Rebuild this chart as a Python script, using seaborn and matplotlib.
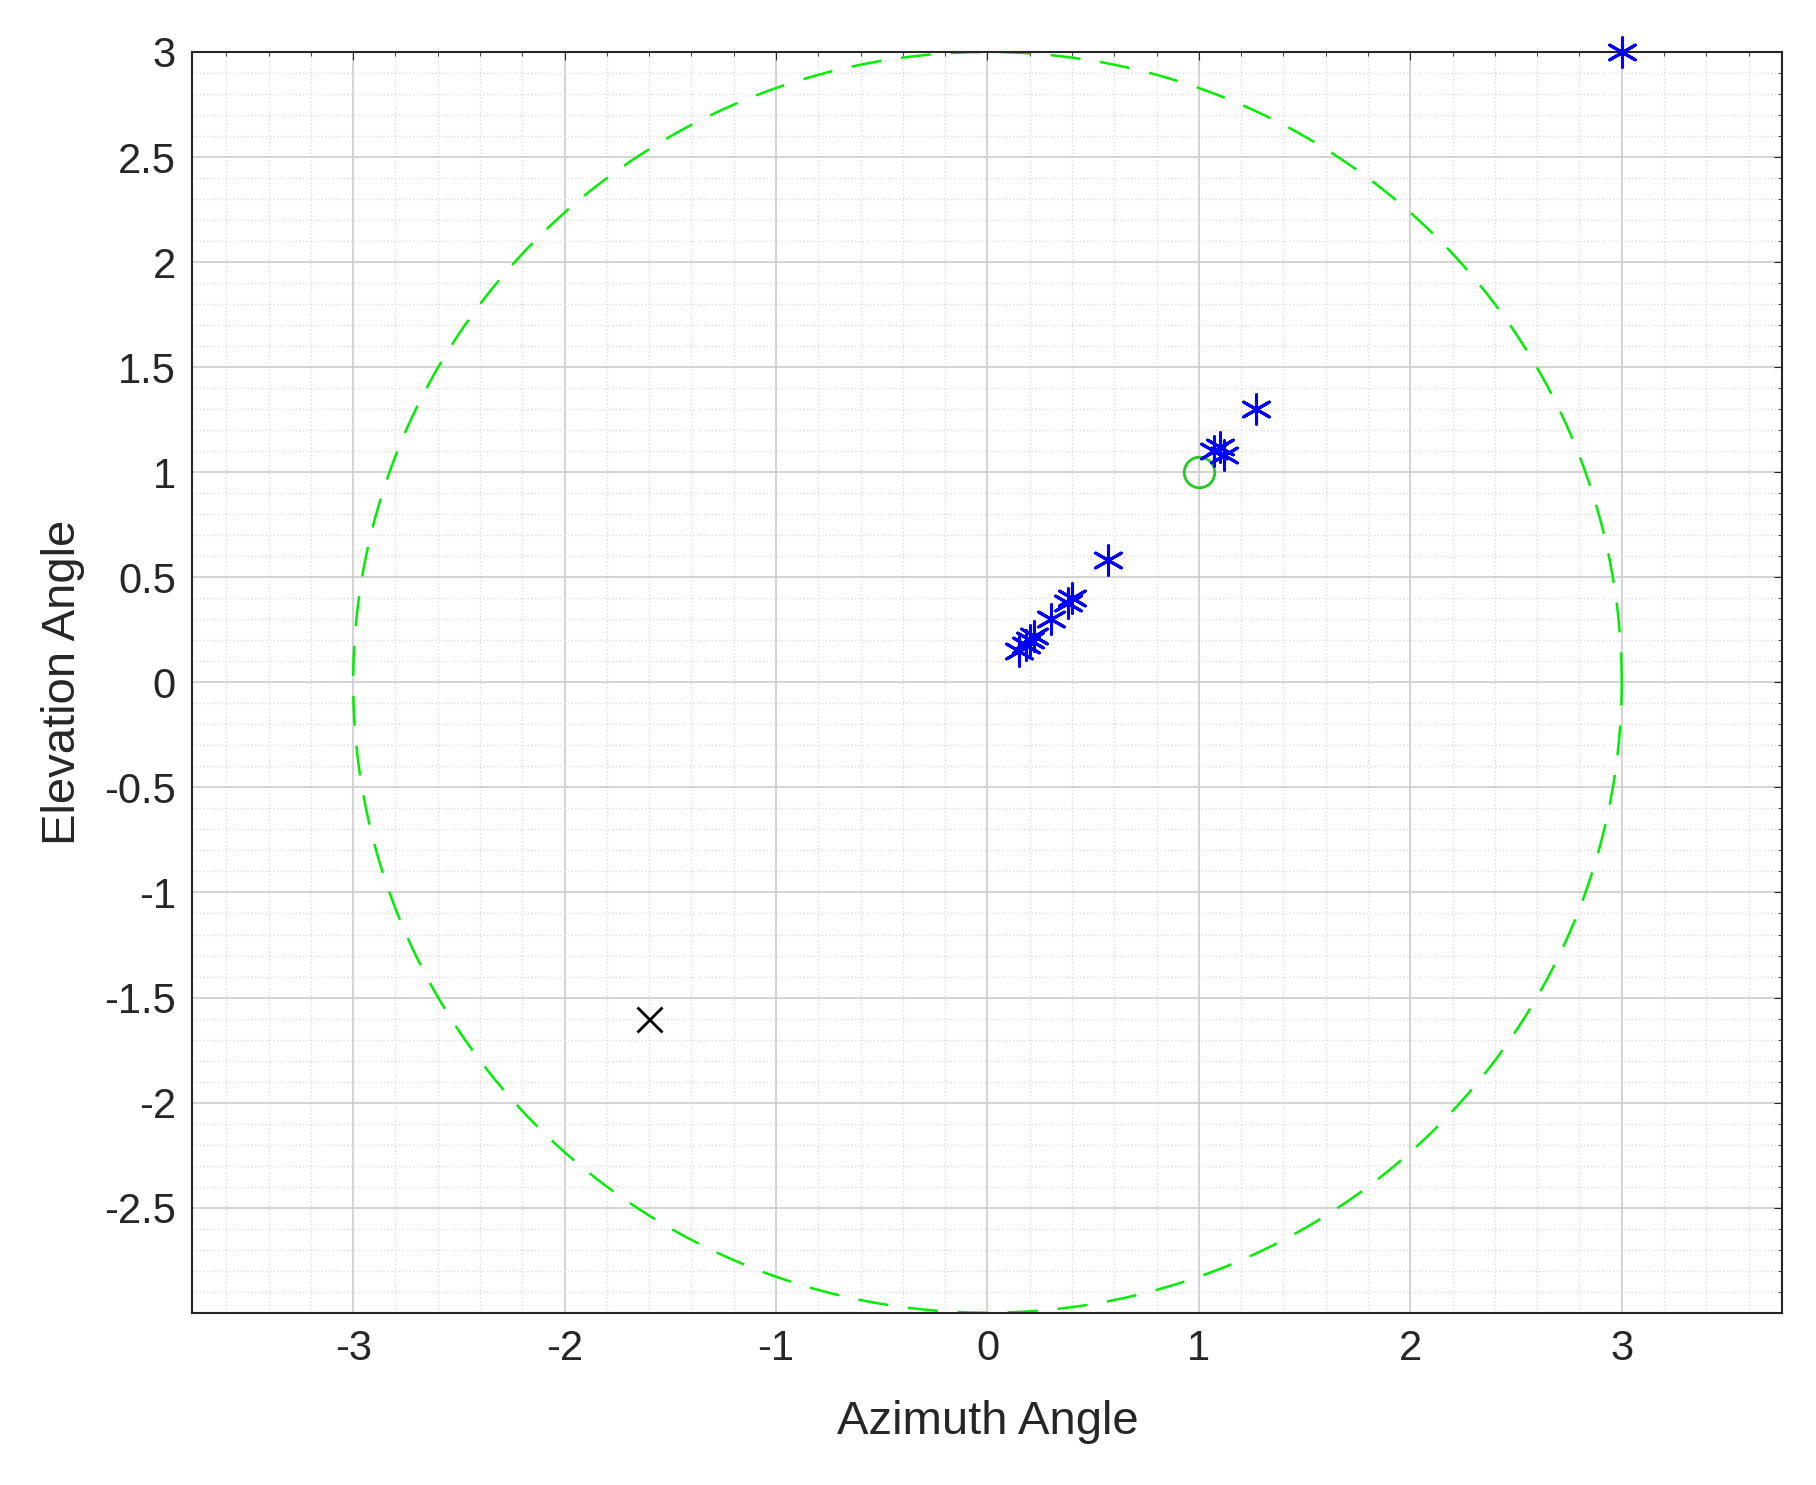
import matplotlib
matplotlib.use("Agg")
import matplotlib.pyplot as plt
import seaborn as sns
import numpy as np
import pandas as pd

sns.set_style("white")
plt.rcParams['font.family'] = ['Liberation Sans', 'DejaVu Sans']
plt.rcParams['axes.unicode_minus'] = False

est_x = [0.15, 0.18, 0.2, 0.22, 0.3, 0.4, 0.38, 0.57, 1.07, 1.1, 1.12, 1.27, 3.0]
est_y = [0.15, 0.18, 0.2, 0.22, 0.3, 0.4, 0.38, 0.58, 1.1, 1.12, 1.08, 1.3, 3.0]
true_x = [1.0]
true_y = [1.0]
cross_x = [-1.6]
cross_y = [-1.6]
radius = 3.0

fig = plt.figure(figsize=(18.16, 14.85), dpi=100)
ax = fig.add_axes([0.106, 0.116, 0.8755, 0.849])

ax.set_xlim(-3.76, 3.76)
ax.set_ylim(-3, 3)
ax.set_xticks(np.arange(-3, 4, 1))
ax.set_xticklabels([f"{v:g}" for v in np.arange(-3, 4, 1)])
ax.set_yticks(np.arange(-2.5, 3.01, 0.5))
ax.set_yticklabels([f"{v:g}" for v in np.arange(-2.5, 3.01, 0.5)])
ax.set_xticks(np.arange(-3.6, 3.8, 0.2), minor=True)
ax.set_yticks(np.arange(-3, 3.01, 0.1), minor=True)
ax.grid(True, which='major', color='#d0d0d0', lw=1.3)
ax.grid(True, which='minor', color='#dcdcdc', lw=1.0, ls=':')
ax.set_axisbelow(True)
ax.tick_params(which='both', direction='in', length=6, labelsize=30, colors='#262626', pad=12)
ax.tick_params(which='minor', length=3)
ax.tick_params(top=True, right=True, which='both')
for s in ax.spines.values():
    s.set_color('#262626'); s.set_linewidth(1.5)

t = np.linspace(0, 2*np.pi, 400)
ax.plot(radius*np.cos(t), radius*np.sin(t), color='#00ee00', ls=(0, (12, 8)), lw=1.8)

sns.scatterplot(x=est_x, y=est_y, marker=(6, 2, 0), color='blue', s=450, linewidth=2.2,
                edgecolor='blue', ax=ax, clip_on=False, zorder=5)
ax.plot(true_x, true_y, ls='none', marker='o', mfc='none', mec='#22cc22', ms=22, mew=2)
ax.plot(cross_x, cross_y, ls='none', marker='x', color='black', ms=18, mew=2)

ax.set_xlabel('Azimuth Angle', fontsize=34, color='#262626', labelpad=22)
ax.set_ylabel('Elevation Angle', fontsize=34, color='#262626', labelpad=14)
fig.savefig('out.png', dpi=100)
